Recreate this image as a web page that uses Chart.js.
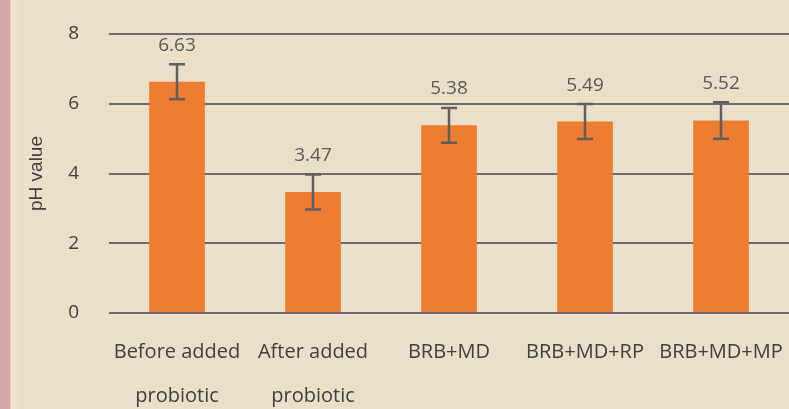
<!DOCTYPE html>
<html lang="en">
  <head>
    <meta charset="UTF-8" />
    <title>pH value</title>
    <script src="https://cdn.jsdelivr.net/npm/chart.js"></script>
    <style>
      html, body { margin: 0; padding: 0; overflow: hidden; }
      body {
        width: 789px; height: 409px;
        background: linear-gradient(to right, #d6a6a8 0, #d6a6a8 10px, #f1e2d4 11px, #ebdfc9 22px, #ebdfc9 100%);
      }
    </style>
  </head>
  <body>
    <canvas id="phChart" width="789" height="409"></canvas>
    <script>
      const categories = [
        ["Before added", "probiotic"],
        ["After added", "probiotic"],
        "BRB+MD",
        "BRB+MD+RP",
        "BRB+MD+MP",
      ];
      const phValues = [6.63, 3.47, 5.38, 5.49, 5.52];
      const phErrors = [0.5, 0.5, 0.5, 0.5, 0.52];
      const yTicks = [0, 2, 4, 6, 8];

      const FONT = "'Open Sans', 'DejaVu Sans', sans-serif";

      // error bars + value labels on top of each bar
      const errorBarPlugin = {
        id: "errorBars",
        afterDatasetsDraw(chart) {
          const ctx = chart.ctx;
          const y = chart.scales.y;
          const meta = chart.getDatasetMeta(0);
          ctx.save();
          meta.data.forEach((bar, i) => {
            const top = y.getPixelForValue(phValues[i] + phErrors[i]);
            const bottom = y.getPixelForValue(phValues[i] - phErrors[i]);
            ctx.strokeStyle = "#5f5f5f";
            ctx.lineWidth = 2.5;
            ctx.beginPath();
            ctx.moveTo(bar.x, top);
            ctx.lineTo(bar.x, bottom);
            ctx.moveTo(bar.x - 8, top);
            ctx.lineTo(bar.x + 8, top);
            ctx.moveTo(bar.x - 8, bottom);
            ctx.lineTo(bar.x + 8, bottom);
            ctx.stroke();

            ctx.fillStyle = "#595959";
            ctx.font = "19px " + FONT;
            ctx.textAlign = "center";
            ctx.textBaseline = "middle";
            ctx.fillText(phValues[i].toFixed(2), bar.x, top - 19);
          });
          ctx.restore();
        },
      };

      new Chart(document.getElementById("phChart").getContext("2d"), {
        type: "bar",
        data: {
          labels: categories,
          datasets: [
            {
              data: phValues,
              backgroundColor: "#ed7d31",
              categoryPercentage: 1,
              barPercentage: 0.41,
            },
          ],
        },
        options: {
          responsive: false,
          animation: false,
          layout: { padding: { top: 34, right: 0, left: 0, bottom: 0 } },
          plugins: {
            legend: { display: false },
            tooltip: { enabled: false },
          },
          scales: {
            x: {
              grid: { display: false, drawTicks: false },
              border: { display: false },
              ticks: {
                color: "#404040",
                padding: 17,
                maxRotation: 0,
                autoSkip: false,
                font: { family: FONT, size: 20, lineHeight: 2.2 },
              },
              afterFit(scale) {
                scale.height = 96;
                scale.paddingLeft = 0;
                scale.paddingRight = 0;
              },
            },
            y: {
              min: 0,
              max: 8,
              afterBuildTicks(scale) {
                scale.ticks = yTicks.map((v) => ({ value: v }));
              },
              grid: { color: "#6b6b6b", lineWidth: 2, drawTicks: false },
              border: { display: false },
              ticks: {
                color: "#404040",
                padding: 30,
                font: { family: FONT, size: 19 },
              },
              title: {
                display: true,
                text: "pH value",
                color: "#404040",
                padding: { top: 25, bottom: 0 },
                font: { family: "'Liberation Sans', Arial, sans-serif", size: 19 },
              },
              afterFit(scale) {
                scale.width = 109;
                scale.paddingTop = 0;
                scale.paddingBottom = 0;
              },
            },
          },
        },
        plugins: [errorBarPlugin],
      });
    </script>
  </body>
</html>
